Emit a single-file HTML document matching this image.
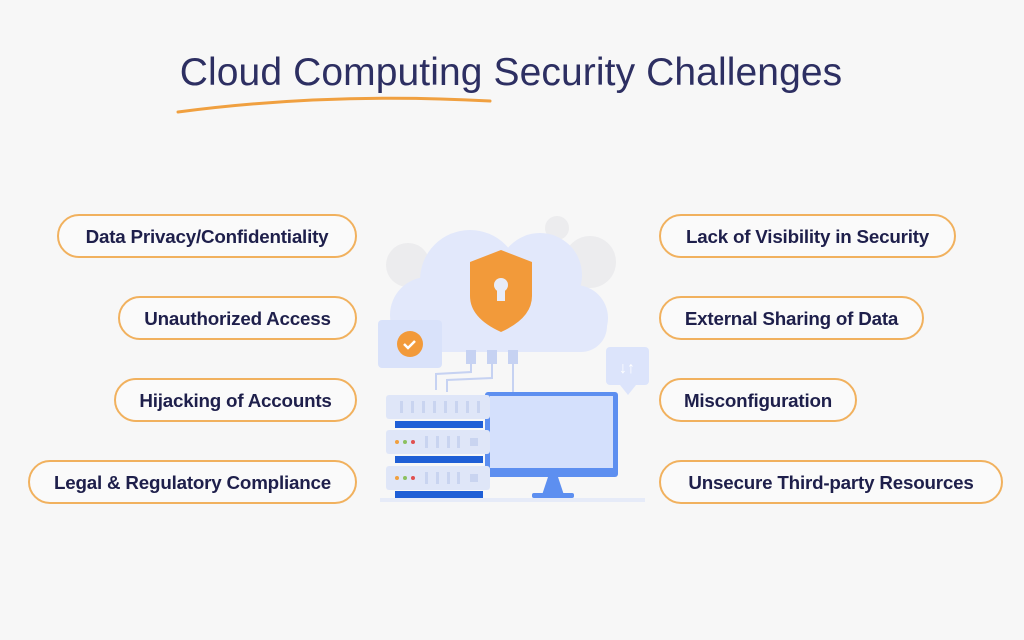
<!DOCTYPE html>
<html><head><meta charset="utf-8"><style>
body{margin:0;width:1024px;height:640px;background:#f7f7f7;position:relative;overflow:hidden;font-family:"Liberation Sans",sans-serif}
.t{position:absolute;left:0;width:1024px;top:51px;text-align:center;font-size:39px;color:#2d2f62;letter-spacing:0.1px;margin-left:-1px}
.p{position:absolute;height:44px;border:2px solid #f1b15e;border-radius:24px;background:#fafafa;box-sizing:border-box;font-weight:bold;font-size:18.8px;color:#1e1f4b;line-height:42px;text-align:center;letter-spacing:-0.2px}
</style></head><body>
<div class="t">Cloud Computing Security Challenges</div>
<svg style="position:absolute;left:0;top:0" width="1024" height="640">
<path d="M178 112 Q330 92 490 101" stroke="#f0a040" stroke-width="3" fill="none" stroke-linecap="round"/>
<circle cx="408" cy="265" r="22" fill="#ececee"/><circle cx="590" cy="262" r="26" fill="#ececee"/><circle cx="557" cy="228" r="12" fill="#ececee"/>
<g fill="#e2e8fb">
<circle cx="470" cy="280" r="50"/><circle cx="540" cy="275" r="42"/><circle cx="428" cy="315" r="38"/><circle cx="575" cy="318" r="33"/>
<rect x="395" y="300" width="212" height="52" rx="26"/></g>
<path d="M470 262 L501 250 L532 262 L532 296 Q532 318 501 332 Q470 318 470 296Z" fill="#f29a3a"/>
<circle cx="501" cy="285" r="7" fill="#e8ecf8"/><rect x="497" y="287" width="8" height="14" fill="#e8ecf8"/>
<g fill="#c6d2f2"><rect x="466" y="350" width="10" height="14"/><rect x="487" y="350" width="10" height="14"/><rect x="508" y="350" width="10" height="14"/></g>
<path d="M471 364 L471 372 L436 374 L436 390 M492 364 L492 378 L447 380 L447 392 M513 364 L513 394" stroke="#c6d2f2" stroke-width="2" fill="none"/>
<rect x="378" y="320" width="64" height="48" rx="4" fill="#d9e2fa"/>
<circle cx="410" cy="344" r="13" fill="#f29a3a"/><path d="M404 344 l4 4 l7 -7" stroke="#fff" stroke-width="2.5" fill="none"/>
<rect x="606" y="347" width="43" height="38" rx="4" fill="#dce4fb"/><path d="M620 385 l8 10 l8 -10z" fill="#dce4fb"/>
<text x="627" y="373" font-size="16" fill="#fff" text-anchor="middle" font-family="Liberation Sans">↓↑</text>
<rect x="485" y="392" width="133" height="85" rx="3" fill="#5d8ff0"/>
<rect x="490" y="396" width="123" height="72" fill="#d4e0fc"/>
<path d="M548 477 L558 477 L564 495 L542 495Z" fill="#5d8ff0"/><rect x="532" y="493" width="42" height="5" rx="2" fill="#5d8ff0"/>
<rect x="380" y="498" width="265" height="4" fill="#e6ebf8"/>
<g>
<rect x="386" y="395" width="104" height="24" rx="3" fill="#dfe6f8"/><rect x="395" y="421" width="88" height="7" fill="#1f5fd6"/>
<rect x="386" y="430" width="104" height="24" rx="3" fill="#dfe6f8"/><rect x="395" y="456" width="88" height="7" fill="#1f5fd6"/>
<rect x="386" y="466" width="104" height="24" rx="3" fill="#dfe6f8"/><rect x="395" y="491" width="88" height="7" fill="#1f5fd6"/>
<g fill="#c9d4f0"><rect x="400" y="401" width="3" height="12"/><rect x="411" y="401" width="3" height="12"/><rect x="422" y="401" width="3" height="12"/><rect x="433" y="401" width="3" height="12"/><rect x="444" y="401" width="3" height="12"/><rect x="455" y="401" width="3" height="12"/><rect x="466" y="401" width="3" height="12"/><rect x="477" y="401" width="3" height="12"/>
<rect x="425" y="436" width="3" height="12"/><rect x="436" y="436" width="3" height="12"/><rect x="447" y="436" width="3" height="12"/><rect x="457" y="436" width="3" height="12"/><rect x="470" y="438" width="8" height="8"/>
<rect x="425" y="472" width="3" height="12"/><rect x="436" y="472" width="3" height="12"/><rect x="447" y="472" width="3" height="12"/><rect x="457" y="472" width="3" height="12"/><rect x="470" y="474" width="8" height="8"/></g>
<circle cx="397" cy="442" r="2" fill="#f0a040"/><circle cx="405" cy="442" r="2" fill="#8cc060"/><circle cx="413" cy="442" r="2" fill="#e05050"/>
<circle cx="397" cy="478" r="2" fill="#f0a040"/><circle cx="405" cy="478" r="2" fill="#8cc060"/><circle cx="413" cy="478" r="2" fill="#e05050"/>
</g>
</svg>
<div class="p" style="left:57px;top:214px;width:300px">Data Privacy/Confidentiality</div>
<div class="p" style="left:118px;top:296px;width:239px">Unauthorized Access</div>
<div class="p" style="left:114px;top:378px;width:243px">Hijacking of Accounts</div>
<div class="p" style="left:28px;top:460px;width:329px">Legal &amp; Regulatory Compliance</div>
<div class="p" style="left:659px;top:214px;width:297px">Lack of Visibility in Security</div>
<div class="p" style="left:659px;top:296px;width:265px">External Sharing of Data</div>
<div class="p" style="left:659px;top:378px;width:198px">Misconfiguration</div>
<div class="p" style="left:659px;top:460px;width:344px">Unsecure Third-party Resources</div>
</body></html>
